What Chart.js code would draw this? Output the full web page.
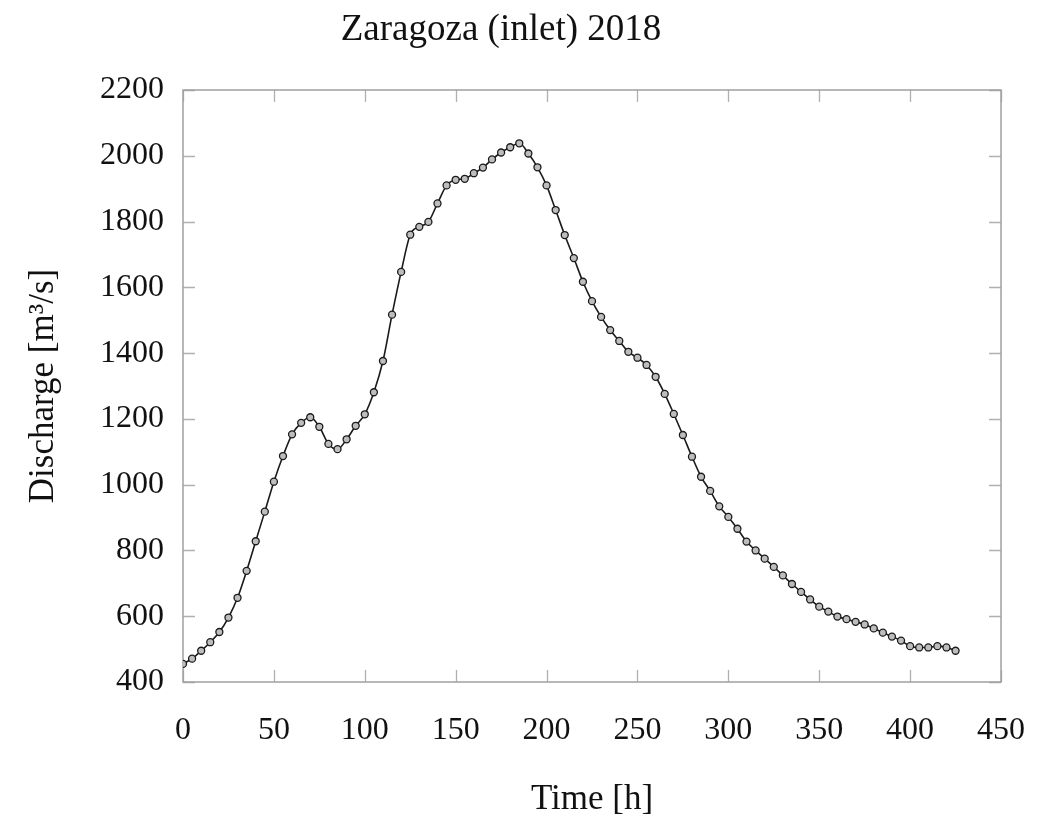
<!DOCTYPE html>
<html>
<head>
<meta charset="utf-8">
<script src="https://cdn.jsdelivr.net/npm/chart.js@4.4.1/dist/chart.umd.min.js"></script>
<style>
  html, body { margin: 0; padding: 0; background: #ffffff; }
  #wrap { width: 1054px; height: 823px; }
</style>
</head>
<body>
<div id="wrap"><canvas id="c" width="1054" height="823"></canvas></div>
<script>
const chartTitle = 'Zaragoza (inlet) 2018';
const xAxisTitle = 'Time [h]';
const yAxisTitle = 'Discharge [m\u00B3/s]';

const timeHours = [
  0, 5, 10, 15, 20, 25, 30, 35, 40, 45,
  50, 55, 60, 65, 70, 75, 80, 85, 90, 95,
  100, 105, 110, 115, 120, 125, 130, 135, 140, 145,
  150, 155, 160, 165, 170, 175, 180, 185, 190, 195,
  200, 205, 210, 215, 220, 225, 230, 235, 240, 245,
  250, 255, 260, 265, 270, 275, 280, 285, 290, 295,
  300, 305, 310, 315, 320, 325, 330, 335, 340, 345,
  350, 355, 360, 365, 370, 375, 380, 385, 390, 395,
  400, 405, 410, 415, 420, 425
];

const discharge = [
  455, 471, 495, 521, 552, 596, 656, 738, 828, 918,
  1009, 1087, 1153, 1188, 1205, 1176, 1124, 1108, 1138, 1179,
  1214, 1281, 1376, 1517, 1647, 1760, 1784, 1799, 1855, 1910,
  1927, 1930, 1947, 1964, 1989, 2010, 2026, 2038, 2007, 1965,
  1910, 1835, 1759, 1689, 1617, 1558, 1510, 1470, 1437, 1404,
  1386, 1364, 1328, 1276, 1215, 1151, 1085, 1024, 981, 934,
  902, 866, 827, 800, 775, 750, 724, 698, 674, 651,
  629, 614, 599, 591, 583, 575, 563, 550, 538, 526,
  509, 505, 505, 509, 505, 495
];

const xTickValues = [0, 50, 100, 150, 200, 250, 300, 350, 400, 450];
const yTickValues = [400, 600, 800, 1000, 1200, 1400, 1600, 1800, 2000, 2200];

const points = timeHours.map((t, i) => ({ x: t, y: discharge[i] }));

const FONT = '"Liberation Serif", "Times New Roman", serif';

// frame and inward tick marks, positioned through the chart's own scales
const framePlugin = {
  id: 'framePlugin',
  beforeDatasetsDraw(chart) {
    const { ctx, chartArea: a, scales } = chart;
    const len = 12;
    ctx.save();
    ctx.strokeStyle = '#b0b0b0';
    ctx.lineWidth = 1.3;
    ctx.beginPath();
    xTickValues.forEach(v => {
      const px = Math.round(scales.x.getPixelForValue(v)) + 0.5;
      ctx.moveTo(px, a.bottom); ctx.lineTo(px, a.bottom - len);
      ctx.moveTo(px, a.top); ctx.lineTo(px, a.top + len);
    });
    yTickValues.forEach(v => {
      const py = Math.round(scales.y.getPixelForValue(v)) + 0.5;
      ctx.moveTo(a.left, py); ctx.lineTo(a.left + len, py);
      ctx.moveTo(a.right, py); ctx.lineTo(a.right - len, py);
    });
    ctx.stroke();
    ctx.strokeStyle = '#a0a0a0';
    ctx.lineWidth = 1.5;
    ctx.strokeRect(a.left, a.top, a.right - a.left, a.bottom - a.top);
    ctx.restore();
  }
};

new Chart(document.getElementById('c'), {
  type: 'line',
  data: {
    datasets: [{
      data: points,
      borderColor: '#1a1a1a',
      borderWidth: 1.6,
      cubicInterpolationMode: 'monotone',
      pointRadius: 3.5,
      pointBorderWidth: 1.3,
      pointBorderColor: '#1a1a1a',
      pointBackgroundColor: '#bdbdbd',
      fill: false
    }]
  },
  options: {
    responsive: false,
    animation: false,
    layout: { padding: { left: 0, right: 52, top: 0, bottom: 0 } },
    plugins: {
      legend: { display: false },
      tooltip: { enabled: false },
      title: {
        display: true,
        text: chartTitle,
        color: '#111',
        font: { family: FONT, size: 37, weight: 'normal' },
        padding: { top: 8, bottom: 37.6 }
      }
    },
    scales: {
      x: {
        type: 'linear',
        min: 0,
        max: 450,
        afterBuildTicks: s => { s.ticks = xTickValues.map(v => ({ value: v })); },
        afterFit: s => { s.height = 141; },
        grid: { display: false, drawTicks: false },
        border: { display: false },
        ticks: {
          color: '#111',
          font: { family: FONT, size: 32 },
          padding: 29,
          maxRotation: 0,
          autoSkip: false,
          callback: v => String(v)
        },
        title: {
          display: true,
          text: xAxisTitle,
          color: '#111',
          font: { family: FONT, size: 35 },
          padding: { top: 0, bottom: 2 }
        }
      },
      y: {
        type: 'linear',
        min: 400,
        max: 2200,
        afterBuildTicks: s => { s.ticks = yTickValues.map(v => ({ value: v })); },
        afterFit: s => { s.width = 183; },
        grid: { display: false, drawTicks: false },
        border: { display: false },
        ticks: {
          color: '#111',
          font: { family: FONT, size: 32 },
          padding: 19,
          autoSkip: false,
          callback: v => String(v)
        },
        title: {
          display: true,
          text: yAxisTitle,
          color: '#111',
          font: { family: FONT, size: 35 },
          padding: { top: 23, bottom: 0 }
        }
      }
    }
  },
  plugins: [framePlugin]
});
</script>
</body>
</html>
